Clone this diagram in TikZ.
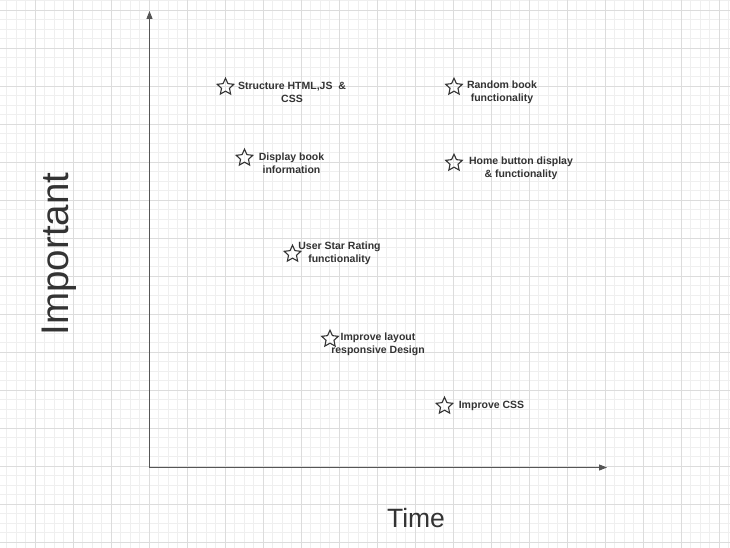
\documentclass[tikz,border=0pt]{standalone}
\usepackage{fontspec}
\setmainfont{Liberation Sans}
\usetikzlibrary{shapes.geometric,arrows.meta}
\definecolor{minorgrid}{HTML}{EFEFEF}
\definecolor{majorgrid}{HTML}{DCDCDC}
\definecolor{ink}{HTML}{333333}
\definecolor{axis}{HTML}{555555}
\tikzset{
  starmark/.style={star, star points=5, star point ratio=2.1, draw=ink, line width=1.1pt, minimum size=17.5pt, inner sep=0pt},
  label/.style={text=ink, font=\fontsize{10.5}{13}\selectfont\bfseries, align=center, inner sep=0pt},
  axisline/.style={draw=axis, line width=1pt, -{Triangle[length=8pt,width=6pt]}},
  bigtitle/.style={text=ink, inner sep=0pt}
}
\begin{document}
\begin{tikzpicture}[x=1pt,y=-1pt]
\useasboundingbox (0,0) rectangle (730,548);
\fill[white] (0,0) rectangle (730,548);
% minor grid
\foreach \k in {-3,...,73} {
  \draw[minorgrid, line width=0.7pt] ({35+9.5*\k},0) -- ({35+9.5*\k},548);
}
\foreach \k in {-1,...,57} {
  \draw[minorgrid, line width=0.7pt] (0,{10+9.5*\k}) -- (730,{10+9.5*\k});
}
% major grid
\foreach \k in {-1,...,19} {
  \draw[majorgrid, line width=0.9pt] ({35+38*\k},0) -- ({35+38*\k},548);
}
\foreach \k in {0,...,14} {
  \draw[majorgrid, line width=0.9pt] (0,{10+38*\k}) -- (730,{10+38*\k});
}
% axes
\coordinate (origin) at (149.5,467.5);
\coordinate (ytop) at (149.5,11);
\coordinate (xend) at (607,467.5);
\draw[axisline] (origin) -- (ytop);
\draw[axisline] (origin) -- (xend);
% titles
\node[bigtitle, rotate=90, font=\fontsize{38.5}{40}\selectfont] (important) at (59,254) {Important};
\node[bigtitle, font=\fontsize{26.5}{28}\selectfont] (time) at (416,518) {Time};
% stars
\node[starmark] (s1) at (225.5,87) {};
\node[starmark] (s2) at (454,87) {};
\node[starmark] (s3) at (244.5,158) {};
\node[starmark] (s4) at (454,163) {};
\node[starmark] (s5) at (292.5,254) {};
\node[starmark] (s6) at (330,339) {};
\node[starmark] (s7) at (444.5,406) {};
% labels
\node[label] (t1) at (292,92.5) {Structure HTML,JS\ \ \&\\CSS};
\node[label] (t2) at (502,92.5) {Random book\\functionality};
\node[label] (t3) at (291.5,163.5) {Display book\\information};
\node[label] (t4) at (521,168.5) {Home button display\\\& functionality};
\node[label] (t5) at (339.5,253.5) {User Star Rating\\functionality};
\node[label] (t6) at (378,344.5) {Improve layout\\responsive Design};
\node[label] (t7) at (491.5,406) {Improve CSS};
\end{tikzpicture}
\end{document}
